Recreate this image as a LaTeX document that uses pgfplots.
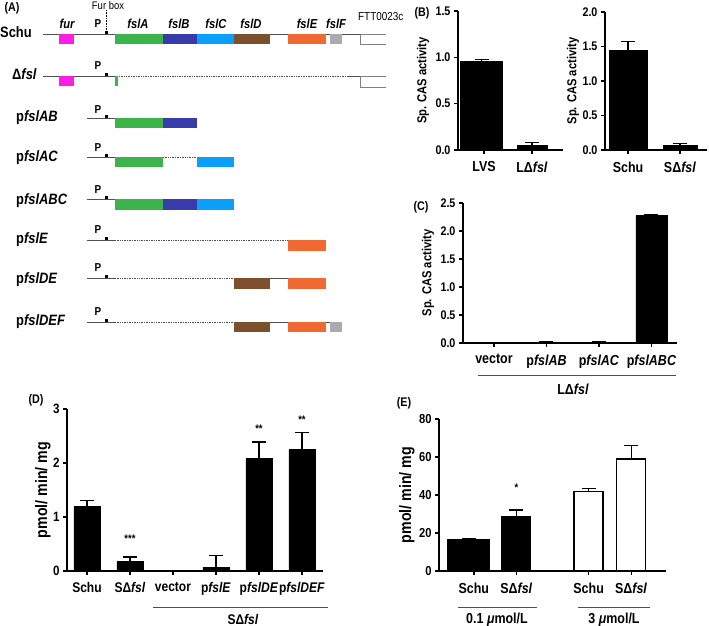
\documentclass[border=0pt]{standalone}
\usepackage{fontspec}
\setmainfont{Liberation Sans}[FakeStretch=0.86]
\usepackage{pgfplots}
\pgfplotsset{compat=1.18}
\definecolor{cfur}{RGB}{250,30,230}
\definecolor{cA}{RGB}{60,180,75}
\definecolor{cB}{RGB}{55,60,170}
\definecolor{cC}{RGB}{10,160,250}
\definecolor{cD}{RGB}{125,80,45}
\definecolor{cE}{RGB}{240,105,50}
\definecolor{cF}{RGB}{170,170,175}
\definecolor{cline}{RGB}{80,80,80}
\newcommand{\fs}[1]{\fontsize{#1}{#1}\selectfont}
\newcommand{\gene}[5]{\addplot[fill=#1,draw=none,mark=none] coordinates {(#2,#4) (#3,#4) (#3,#5) (#2,#5)} --cycle;}
\newcommand{\sline}[3]{\addplot[cline,line width=0.8pt,mark=none] coordinates {(#1,#3) (#2,#3)};}
\newcommand{\dline}[3]{\addplot[cline,line width=0.7pt,densely dotted,mark=none] coordinates {(#1,#3) (#2,#3)};}
\newcommand{\prom}[1]{\addplot[only marks,mark=square*,mark size=1.3pt,black] coordinates {(106,#1)};}
\pgfplotsset{
  prism/.style={
    scale only axis, clip=false,
    axis x line*=bottom, axis y line*=left,
    axis line style={line width=1.8pt,-},
    major tick style={line width=1.3pt,black},
    tick align=outside, major tick length=4pt,
    ymin=0,
    /pgf/number format/assume math mode=true,
    yticklabel style={font=\fs{12.5}\bfseries},
    xticklabel style={font=\fs{14.5}\bfseries, yshift=-4pt},
    every axis y label/.style={at={(axis description cs:#1,0.5)},rotate=90,anchor=center,font=\fs{13}\bfseries},
  },
  onedec/.style={yticklabel style={/pgf/number format/.cd,fixed,fixed zerofill,precision=1}},
  bk/.style={ybar, bar shift=0pt, bar width=#1, fill=black, draw=black, line width=0.8pt,
    error bars/.cd, y dir=plus, y explicit,
    error bar style={line width=1.2pt,black},
    error mark options={rotate=90, mark size=7pt, line width=1.2pt, black}},
  wh/.style={ybar, bar shift=0pt, bar width=#1, fill=white, draw=black, line width=1.6pt,
    error bars/.cd, y dir=plus, y explicit,
    error bar style={line width=1.2pt,black},
    error mark options={rotate=90, mark size=7pt, line width=1.2pt, black}},
}
\begin{document}
\begin{tikzpicture}
\path[use as bounding box, fill=white] (0pt,0pt) rectangle (709pt,-626pt);

% ---------------- Panel A ----------------
\begin{axis}[at={(0pt,0pt)}, anchor=north west, scale only axis, width=400pt, height=340pt,
  xmin=0, xmax=400, ymin=0, ymax=340, y dir=reverse, axis lines=none, clip=false]
% Schu
\sline{43}{360}{34}
\gene{cfur}{59}{74}{34}{44}
\gene{cA}{115}{163}{34}{44}
\gene{cB}{163}{197}{34}{44}
\gene{cC}{197}{234}{34}{44}
\gene{cD}{234}{270}{34}{44}
\gene{cE}{288}{326}{34}{44}
\gene{cF}{330}{342}{34}{44}
\addplot[gray,line width=0.8pt,mark=none] coordinates {(386,34) (360,34) (360,44) (386,44)};
\addplot[black,line width=0.6pt,densely dotted,mark=none] coordinates {(106,10) (106,32)};
\prom{32}
% Delta fsl
\sline{43}{116}{76}
\dline{119}{347}{76}
\sline{347}{360}{76}
\gene{cfur}{59}{74}{76}{86}
\gene{cA}{115}{118}{76}{86}
\addplot[gray,line width=0.8pt,mark=none] coordinates {(386,76) (360,76) (360,87) (386,87)};
\prom{74}
% pfslAB
\sline{87}{115}{118}
\gene{cA}{115}{163}{118}{128}
\gene{cB}{163}{197}{118}{128}
\prom{116}
% pfslAC
\sline{87}{115}{157}
\gene{cA}{115}{163}{157}{167}
\dline{163}{197}{157}
\gene{cC}{197}{234}{157}{167}
\prom{155}
% pfslABC
\sline{87}{115}{199}
\gene{cA}{115}{163}{199}{210}
\gene{cB}{163}{197}{199}{210}
\gene{cC}{197}{234}{199}{210}
\prom{197}
% pfslE
\sline{87}{115}{240}
\dline{115}{288}{240}
\gene{cE}{288}{326}{240}{251}
\prom{238}
% pfslDE
\sline{87}{115}{278}
\dline{115}{234}{278}
\sline{270}{288}{278}
\gene{cD}{234}{270}{278}{289}
\gene{cE}{288}{326}{278}{289}
\prom{276}
% pfslDEF
\sline{87}{115}{322}
\dline{115}{234}{322}
\sline{270}{330}{322}
\gene{cD}{234}{270}{322}{332}
\gene{cE}{288}{326}{322}{332}
\gene{cF}{330}{342}{322}{332}
\prom{320}
\end{axis}
% Panel A text
\begin{scope}[every node/.style={inner sep=0pt}]
\node[font=\fs{12.5}\bfseries] at (12pt,-8pt) {(A)};
\node[font=\fs{11}] at (108pt,-6pt) {Fur box};
\node[font=\fs{11.5}, anchor=west] at (358pt,-17pt) {FTT0023c};
\foreach \x/\t in {67/fur,138/fslA,179/fslB,216/fslC,251/fslD,307/fslE,336/fslF}
  \node[font=\fs{13}\bfseries\itshape] at (\x pt,-24pt) {\t};
\foreach \y in {24,66,110,148,190,230,268,312}
  \node[font=\fs{11.5}\bfseries] at (98pt,-\y pt) {P};
\node[font=\fs{15}\bfseries, anchor=west] at (0pt,-32pt) {Schu};
\node[font=\fs{15}\bfseries, anchor=west] at (12pt,-74pt) {Δ\textit{fsl}};
\node[font=\fs{15}\bfseries, anchor=west] at (16pt,-118pt) {p\textit{fslAB}};
\node[font=\fs{15}\bfseries, anchor=west] at (16pt,-158pt) {p\textit{fslAC}};
\node[font=\fs{15}\bfseries, anchor=west] at (16pt,-201pt) {p\textit{fslABC}};
\node[font=\fs{15}\bfseries, anchor=west] at (16pt,-240pt) {p\textit{fslE}};
\node[font=\fs{15}\bfseries, anchor=west] at (16pt,-280pt) {p\textit{fslDE}};
\node[font=\fs{15}\bfseries, anchor=west] at (16pt,-322pt) {p\textit{fslDEF}};
% panel letters
\node[font=\fs{12.5}\bfseries] at (422pt,-13pt) {(B)};
\node[font=\fs{12.5}\bfseries] at (421pt,-207pt) {(C)};
\node[font=\fs{12.5}\bfseries] at (36pt,-400pt) {(D)};
\node[font=\fs{12.5}\bfseries] at (404pt,-403pt) {(E)};
\end{scope}

% ---------------- Panel B left ----------------
\begin{axis}[prism=-0.333, onedec, at={(458pt,-150pt)}, anchor=south west, width=105pt, height=139pt,
  xmin=-0.542, xmax=1.646, ymax=1.5, ytick={0,0.5,1,1.5},
  xtick={0,1}, xticklabels={LVS, LΔ\textit{fsl}},
  ylabel={Sp. CAS activity}]
\addplot[bk=42pt] coordinates {(-0.05,0.96) +- (0,0.02)};
\addplot[bk=30pt] coordinates {(1,0.05) +- (0,0.035)};
\end{axis}

% ---------------- Panel B right ----------------
\begin{axis}[prism=-0.314, onedec, at={(605pt,-150pt)}, anchor=south west, width=102pt, height=138pt,
  xmin=-0.442, xmax=1.519, ymax=2.0, ytick={0,0.5,1,1.5,2},
  xtick={0,1}, xticklabels={Schu, SΔ\textit{fsl}},
  ylabel={Sp. CAS activity}]
\addplot[bk=38pt] coordinates {(0,1.45) +- (0,0.12)};
\addplot[bk=34pt] coordinates {(1,0.07) +- (0,0.025)};
\end{axis}

% ---------------- Panel C ----------------
\begin{axis}[prism=-0.164, onedec, at={(463pt,-343pt)}, anchor=south west, width=214pt, height=140pt,
  xmin=-0.59, xmax=3.486, ymax=2.5, ytick={0,0.5,1,1.5,2,2.5},
  xtick={0,1,2,3}, xticklabels={vector, p\textit{fslAB}, p\textit{fslAC}, p\textit{fslABC}},
  ylabel={Sp. CAS activity}]
\addplot[bk=31pt] coordinates {(1,0.015) +- (0,0.01) (2,0.015) +- (0,0.01) (3,2.27) +- (0,0.025)};
\end{axis}
\draw[cline,line width=0.8pt] (478pt,-375pt) -- (676pt,-375pt);
\node[font=\fs{14.5}\bfseries] at (573pt,-389pt) {LΔ\textit{fsl}};

% ---------------- Panel D ----------------
\begin{axis}[prism=-0.094, at={(67pt,-571pt)}, anchor=south west, width=256pt, height=162pt,
  xmin=-0.465, xmax=5.49, ymax=3, ytick={0,1,2,3},
  yticklabel style={font=\fs{13.5}\bfseries},
  xtick={0,1,2,3,4,5}, xticklabels={Schu, SΔ\textit{fsl}, vector, p\textit{fslE}, p\textit{fslDE}, p\textit{fslDEF}},
  xticklabel style={font=\fs{14}\bfseries},
  every axis y label/.append style={font=\fs{16.5}\bfseries},
  ylabel={pmol/ min/ mg}]
\addplot[bk=26pt] coordinates {(0,1.19) +- (0,0.12) (1,0.17) +- (0,0.09) (3,0.07) +- (0,0.22) (4,2.08) +- (0,0.31) (5,2.25) +- (0,0.31)};
\node[font=\fs{11}\bfseries] at (axis cs:1,0.6) {***};
\node[font=\fs{11}\bfseries] at (axis cs:4,2.64) {**};
\node[font=\fs{11}\bfseries] at (axis cs:5,2.8) {**};
\end{axis}
\draw[cline,line width=0.8pt] (153pt,-607pt) -- (328pt,-607pt);
\node[font=\fs{14}\bfseries] at (243pt,-619pt) {SΔ\textit{fsl}};

% ---------------- Panel E ----------------
\begin{axis}[prism=-0.141, at={(439pt,-571pt)}, anchor=south west, width=227pt, height=152pt,
  xmin=-0.82, xmax=4.52, ymax=80, ytick={0,20,40,60,80},
  yticklabel style={font=\fs{13}\bfseries},
  xtick={0,1,2.7,3.7}, xticklabels={Schu, SΔ\textit{fsl}, Schu, SΔ\textit{fsl}},
  xticklabel style={font=\fs{14.5}\bfseries},
  every axis y label/.append style={font=\fs{16.5}\bfseries},
  ylabel={pmol/ min/ mg}]
\addplot[bk=42pt] coordinates {(-0.12,16.7) +- (0,0.5)};
\addplot[bk=29pt] coordinates {(1,29) +- (0,3.1)};
\addplot[wh=29pt] coordinates {(2.7,41.8) +- (0,1.7) (3.7,58.8) +- (0,7.1)};
\node[font=\fs{11}\bfseries] at (axis cs:1,44) {*};
\end{axis}
\draw[cline,line width=0.8pt] (458pt,-607pt) -- (537pt,-607pt);
\draw[cline,line width=0.8pt] (578pt,-607pt) -- (650pt,-607pt);
\node[font=\fs{14.5}\bfseries] at (497pt,-620pt) {0.1 \textit{μ}mol/L};
\node[font=\fs{14.5}\bfseries] at (614pt,-620pt) {3 \textit{μ}mol/L};
\end{tikzpicture}
\end{document}
